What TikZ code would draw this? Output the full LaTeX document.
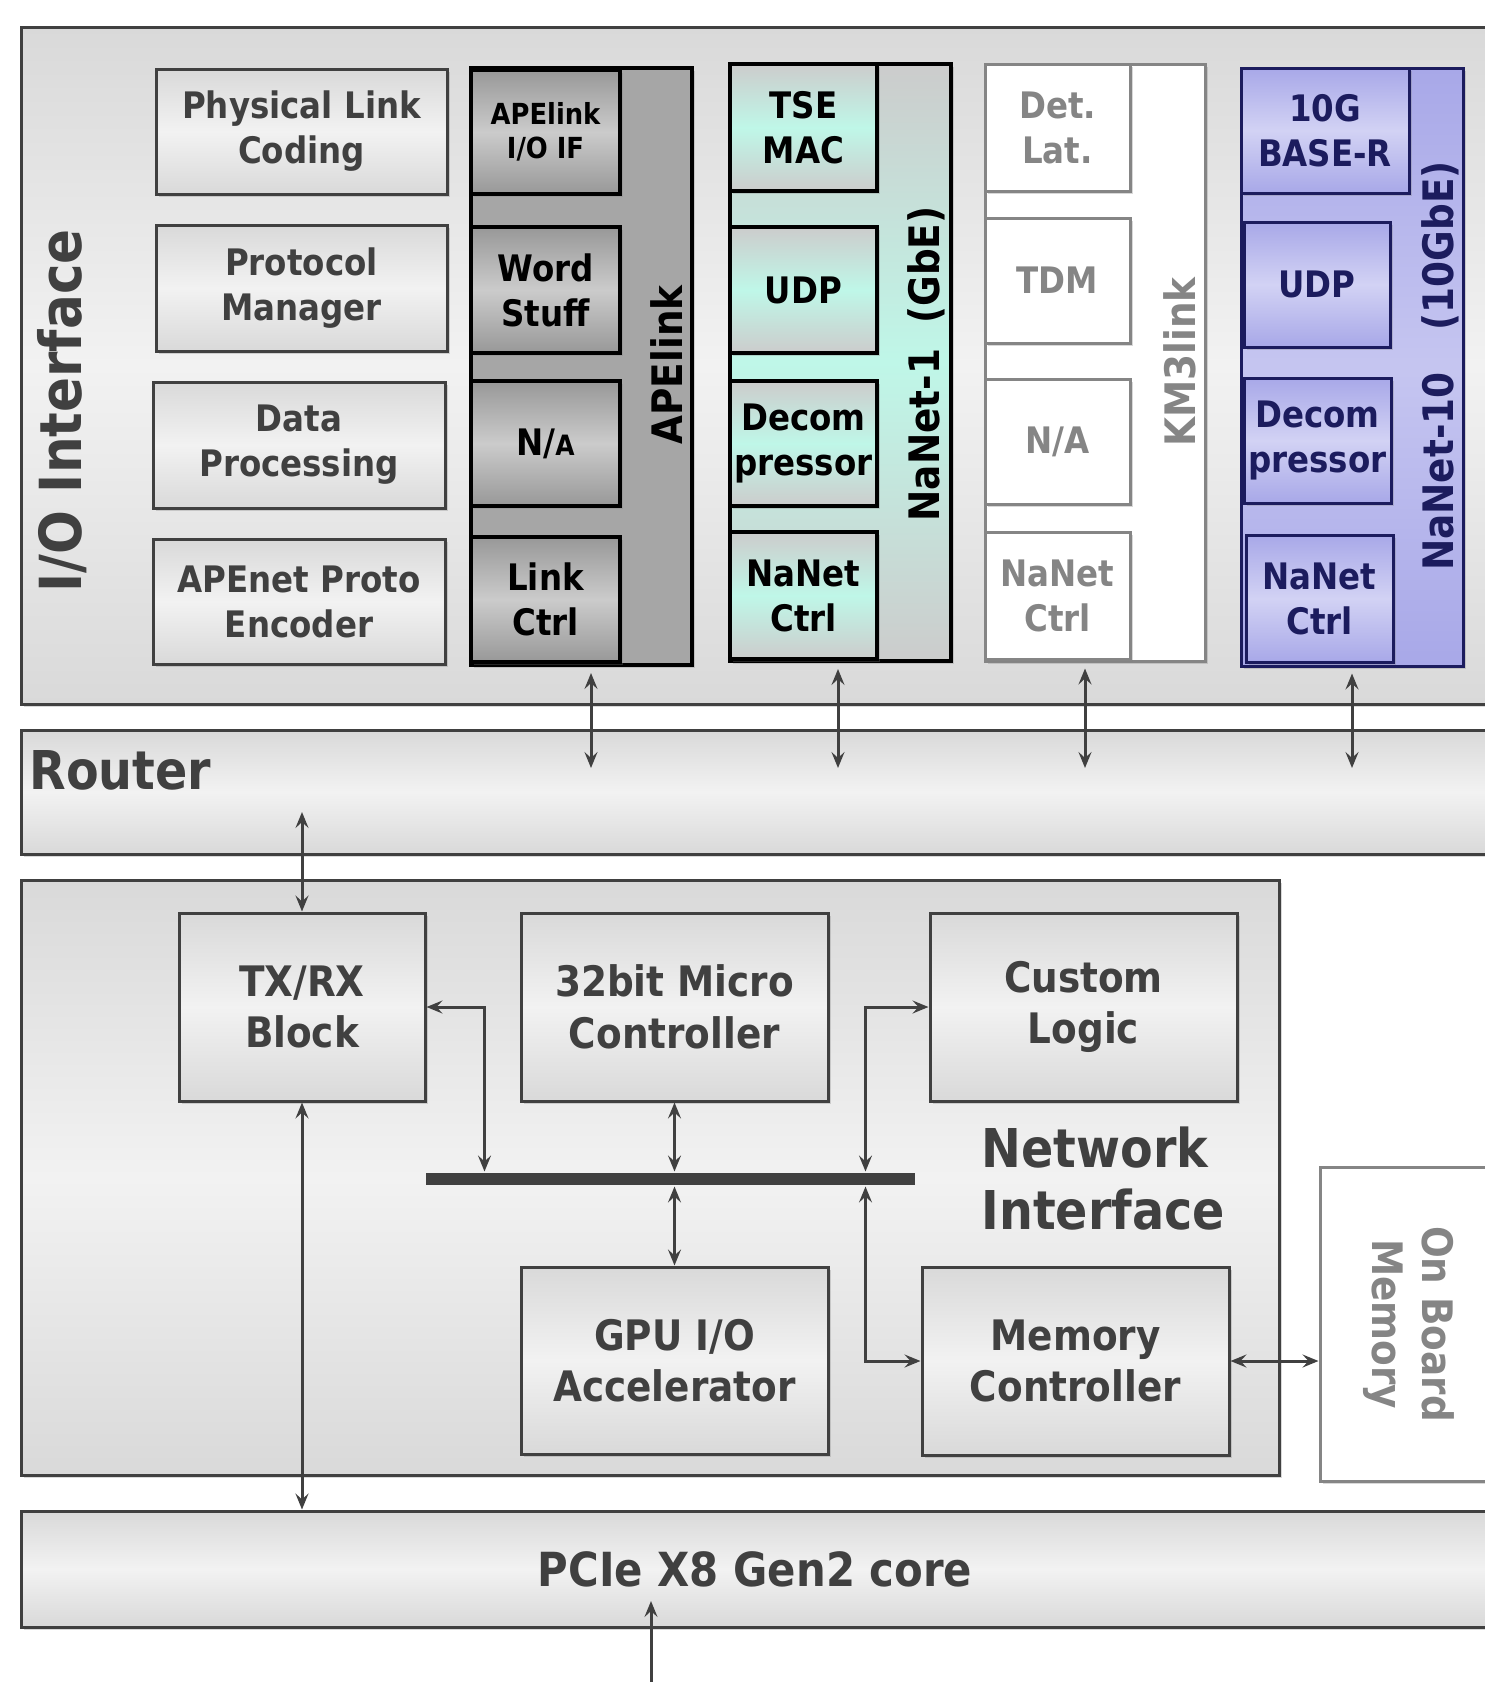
\documentclass[tikz,border=0pt]{standalone}
\usepackage{fontspec}
\setmainfont{DejaVu Sans}[FakeStretch=0.89]
\usetikzlibrary{arrows.meta,shadows}

\definecolor{dgray}{HTML}{404040}
\definecolor{lgray}{HTML}{D9D9D9}
\definecolor{hgray}{HTML}{F2F2F2}
\definecolor{apedark}{HTML}{989898}
\definecolor{apelight}{HTML}{CBCBCB}
\definecolor{apecol}{HTML}{A6A6A6}
\definecolor{gbegray}{HTML}{CCCCCC}
\definecolor{mint}{HTML}{BFF7E8}
\definecolor{kmgray}{HTML}{858585}
\definecolor{navy}{HTML}{1C1C5E}
\definecolor{lav}{HTML}{A8A8E8}
\definecolor{lavlight}{HTML}{D2D2F4}

\tikzset{every picture/.style={line width=3pt}}

\tikzset{
  blk/.style={rectangle, inner sep=0pt, align=center, line width=3pt,
    font=\bfseries\fontsize{36.5}{45}\selectfont,
    drop shadow={opacity=0.3, shadow xshift=3pt, shadow yshift=-3pt}},
  bigblk/.style={blk, draw=dgray, text=dgray, top color=lgray, bottom color=lgray, middle color=hgray},
  greyblk/.style={blk, draw=dgray, text=dgray, top color=lgray, bottom color=lgray, middle color=hgray},
  niblk/.style={greyblk, font=\bfseries\fontsize{42}{51.5}\selectfont},
  apeblk/.style={blk, draw=black, line width=4pt, text=black, top color=apedark, bottom color=apedark, middle color=apelight},
  gbeblk/.style={blk, draw=black, line width=4pt, text=black, top color=gbegray, bottom color=gbegray, middle color=mint},
  kmblk/.style={blk, draw=kmgray, text=kmgray, fill=white},
  tenblk/.style={blk, draw=navy, text=navy, top color=lav, bottom color=lav, middle color=lavlight},
  collbl/.style={rotate=90, inner sep=0pt, font=\bfseries\fontsize{42}{50}\selectfont},
  biarrow/.style={{Stealth[length=16pt,width=13pt,inset=6pt]}-{Stealth[length=16pt,width=13pt,inset=6pt]}, draw=dgray, line width=3pt},
}

\begin{document}
\begin{tikzpicture}[x=1pt,y=1pt,yscale=-1]
\useasboundingbox (0,0) rectangle (1485,1682);
\clip (0,0) rectangle (1485,1682);

% main blocks
\node[bigblk, minimum width=1468pt, minimum height=677pt] (ioif) at (755,365.5) {};
\node[bigblk, minimum width=1468pt, minimum height=124pt] (router) at (755,792) {};
\node[bigblk, minimum width=1258pt, minimum height=595pt] (netif) at (650,1177.5) {};
\node[kmblk, minimum width=169pt, minimum height=314pt] (obmem) at (1404.5,1324) {};
\node[bigblk, minimum width=1468pt, minimum height=116pt, font=\bfseries\fontsize{47}{55}\selectfont] (pcie) at (755,1569) {PCIe X8 Gen2 core};

\node[text=dgray, rotate=90, inner sep=0pt, font=\bfseries\fontsize{58}{66}\selectfont] (iolbl) at (62,411) {I/O Interface};
\node[text=dgray, anchor=west, inner sep=0pt, font=\bfseries\fontsize{53.5}{62}\selectfont] (rtlbl) at (28,770) {Router};
\node[text=dgray, anchor=west, align=left, inner sep=0pt, font=\bfseries\fontsize{53.5}{62}\selectfont] (nilbl) at (980,1179) {Network\\Interface};
\node[text=kmgray, rotate=-90, align=center, inner sep=0pt, font=\bfseries\fontsize{42}{50}\selectfont] (oblbl) at (1409,1324) {On Board\\Memory};

% generic I/O functions
\node[greyblk, minimum width=291pt, minimum height=125pt] (phy) at (301.5,131.5) {Physical Link\\Coding};
\node[greyblk, minimum width=291pt, minimum height=126pt] (proto) at (301.5,288) {Protocol\\Manager};
\node[greyblk, minimum width=292pt, minimum height=126pt] (datap) at (299,445) {Data\\Processing};
\node[greyblk, minimum width=292pt, minimum height=125pt] (enc) at (299,601.5) {APEnet Proto\\Encoder};

% APElink channel
\node[blk, draw=black, line width=4pt, fill=apecol, minimum width=221pt, minimum height=597pt] (apel) at (581.5,366.5) {};
\node[apeblk, minimum width=149pt, minimum height=124pt, font=\bfseries\fontsize{29}{34}\selectfont] (apio) at (545.5,132) {APElink\\I/O IF};
\node[apeblk, minimum width=149pt, minimum height=126pt] (wstuff) at (545.5,290) {Word\\Stuff};
\node[apeblk, minimum width=149pt, minimum height=125pt] (apna) at (545.5,443.5) {N/{\fontsize{28}{28}\selectfont A}};
\node[apeblk, minimum width=149pt, minimum height=125pt] (lctrl) at (545.5,599.5) {Link\\Ctrl};
\node[collbl, text=black] (apelbl) at (667,365) {APElink};

% NaNet-1 channel
\node[blk, draw=black, line width=4pt, top color=gbegray, bottom color=gbegray, middle color=mint, minimum width=221pt, minimum height=597pt] (gbe) at (840.5,362.5) {};
\node[gbeblk, minimum width=147pt, minimum height=127pt] (tse) at (803.5,127.5) {TSE\\MAC};
\node[gbeblk, minimum width=147pt, minimum height=126pt] (udpa) at (803.5,290) {UDP};
\node[gbeblk, minimum width=147pt, minimum height=125pt] (deca) at (803.5,443.5) {Decom\\pressor};
\node[gbeblk, minimum width=147pt, minimum height=127pt] (ctrla) at (803.5,595.5) {NaNet\\Ctrl};
\node[collbl, text=black] (gbelbl) at (926,364) {NaNet-1\hspace{0.6em}(GbE)};

% KM3link channel
\node[kmblk, minimum width=220pt, minimum height=597pt] (km3) at (1095,362.5) {};
\node[kmblk, minimum width=145pt, minimum height=127pt] (detlat) at (1057.5,127.5) {Det.\\Lat.};
\node[kmblk, minimum width=145pt, minimum height=125pt] (tdm) at (1057.5,280.5) {TDM};
\node[kmblk, minimum width=145pt, minimum height=125pt] (kmna) at (1057.5,441.5) {N/A};
\node[kmblk, minimum width=145pt, minimum height=127pt] (ctrlb) at (1057.5,595.5) {NaNet\\Ctrl};
\node[collbl, text=kmgray] (kmlbl) at (1180,362) {KM3link};

% NaNet-10 channel
\node[blk, draw=navy, top color=lav, bottom color=lav, middle color=lavlight!70!lav, minimum width=222pt, minimum height=598pt] (tengbe) at (1352,367) {};
\node[tenblk, minimum width=168pt, minimum height=125pt] (base) at (1325,130.5) {10G\\BASE-R};
\node[tenblk, minimum width=146pt, minimum height=125pt] (udpb) at (1317,284.5) {UDP};
\node[tenblk, minimum width=147pt, minimum height=125pt] (decb) at (1317.5,440.5) {Decom\\pressor};
\node[tenblk, minimum width=147pt, minimum height=127pt] (ctrlc) at (1319.5,598.5) {NaNet\\Ctrl};
\node[collbl, text=navy] (tenlbl) at (1440,366) {NaNet-10\hspace{1em}(10GbE)};

% network interface internals
\node[niblk, minimum width=246pt, minimum height=188pt] (txrx) at (302,1007) {TX/RX\\Block};
\node[niblk, minimum width=307pt, minimum height=188pt] (mcu) at (674.5,1007) {32bit Micro\\Controller};
\node[niblk, minimum width=307pt, minimum height=188pt] (custom) at (1083.5,1007) {Custom\\Logic};
\node[rectangle, fill=dgray, inner sep=0pt, minimum width=489pt, minimum height=12pt] (bus) at (670.5,1179) {};
\node[niblk, minimum width=307pt, minimum height=187pt] (gpuio) at (674.5,1360.5) {GPU I/O\\Accelerator};
\node[niblk, minimum width=307pt, minimum height=188pt] (memctl) at (1075.5,1361) {Memory\\Controller};

% channels to router
\foreach \cx/\ch in {591/apel, 838/gbe, 1085/km3, 1352/tengbe}{
  \coordinate (rt-\ch) at (\cx,768);
  \draw[biarrow, shorten <=6pt] (rt-\ch |- \ch.south) -- (rt-\ch);
}
\coordinate (rtin) at (302,812);
\draw[biarrow] (txrx.north) -- (rtin);
\draw[biarrow] (txrx.south) -- (txrx.south |- pcie.north);

% bus connections
\draw[biarrow] (txrx.east) -| ([xshift=60pt]bus.north west);
\draw[biarrow] (mcu.south) -- (mcu.south |- bus.north);
\draw[biarrow] (bus.south -| gpuio.north) -- (gpuio.north);
\draw[biarrow] ([xshift=-51pt]bus.north east) |- (custom.west);
\draw[biarrow] ([xshift=-51pt]bus.south east) |- (memctl.west);
\draw[biarrow] (memctl.east) -- (memctl.east -| obmem.west);

% host side
\coordinate (hostin) at (651,1601);
\coordinate (host) at (651,1700);
\draw[biarrow] (hostin) -- (host);
\end{tikzpicture}
\end{document}
